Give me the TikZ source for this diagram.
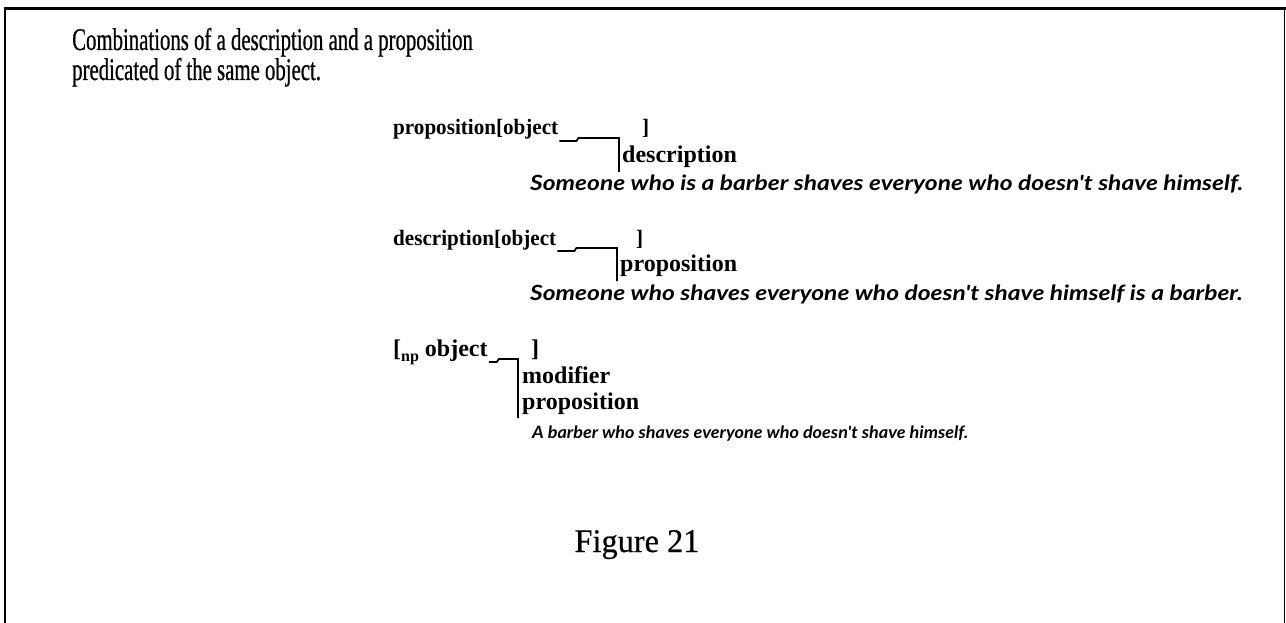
\documentclass[tikz,border=0pt]{standalone}
\usepackage{fontspec}
\setmainfont{Liberation Serif}
\newfontfamily\headfont[FakeStretch=0.66,FakeBold=0.6]{Liberation Serif}
\newfontfamily\capfont[FakeStretch=0.98,FakeBold=0.5]{Liberation Serif}
\newfontfamily\termfont[FakeStretch=0.96]{Liberation Serif}
\newfontfamily\branchfont{Liberation Serif}
\newfontfamily\examplefont[FakeStretch=1.17]{Lato}
\newfontfamily\shortexamplefont[FakeStretch=1.06]{Lato}
\begin{document}
\begin{tikzpicture}[x=1pt,y=-1pt,
  txt/.style={inner sep=0pt, anchor=base west},
  head/.style={txt, font=\headfont\fontsize{31.5}{33}\selectfont},
  term/.style={txt, font=\termfont\bfseries\fontsize{22}{24}\selectfont},
  branch/.style={txt, font=\branchfont\bfseries\fontsize{24}{26}\selectfont},
  example/.style={txt, font=\examplefont\bfseries\itshape\fontsize{21}{24}\selectfont},
  shortexample/.style={txt, font=\shortexamplefont\bfseries\itshape\fontsize{17}{20}\selectfont},
  link/.style={line width=1.8pt, line join=miter},
  rule/.style={line width=#1}]
\useasboundingbox (0,0) rectangle (1286,623);

% frame (open at the bottom)
\draw[rule=3pt] (4,9) -- (1286,9);
\draw[rule=2pt] (5,8) -- (5,623);
\draw[rule=1pt] (1284,9) -- (1284,623);

% heading
\node[head] (t1) at (72,50) {Combinations of a description and a proposition};
\node[head] (t2) at (72,80) {predicated of the same object.};

% first combination
\node[term] (p1) at (393,135) {proposition[object};
\node[term] (c1) at (642,135) {]};
\node[branch] (d1) at (622,163) {description};
\coordinate (k1) at (619,172);
\draw[link] ([shift={(1,6)}]p1.base east) -- ++(17,0) -- ++(2,-3) -| (k1);
\node[example] (e1) at (530,191) {Someone who is a barber shaves everyone who doesn't shave himself.};

% second combination
\node[term] (p2) at (393,245) {description[object};
\node[term] (c2) at (636,245) {]};
\node[branch] (d2) at (620,271) {proposition};
\coordinate (k2) at (617,281);
\draw[link] ([shift={(1,6)}]p2.base east) -- ++(17,0) -- ++(2,-3) -| (k2);
\node[example] (e2) at (530,300) {Someone who shaves everyone who doesn't shave himself is a barber.};

% third combination
\node[branch] (p3) at (393,356) {[\raisebox{-5pt}{\fontsize{16}{16}\selectfont np} object};
\node[branch] (c3) at (531,356) {]};
\node[branch] (m3) at (522,383) {modifier};
\node[branch] (d3) at (522,409) {proposition};
\coordinate (k3) at (518,418);
\draw[link] ([shift={(1,6)}]p3.base east) -- ++(8,0) -- ++(2,-3) -| (k3);
\node[shortexample] (e3) at (532,438) {A barber who shaves everyone who doesn't shave himself.};

% caption
\node[txt, anchor=base, font=\capfont\fontsize{33}{35}\selectfont] (fig) at (637,552) {Figure 21};
\end{tikzpicture}
\end{document}
